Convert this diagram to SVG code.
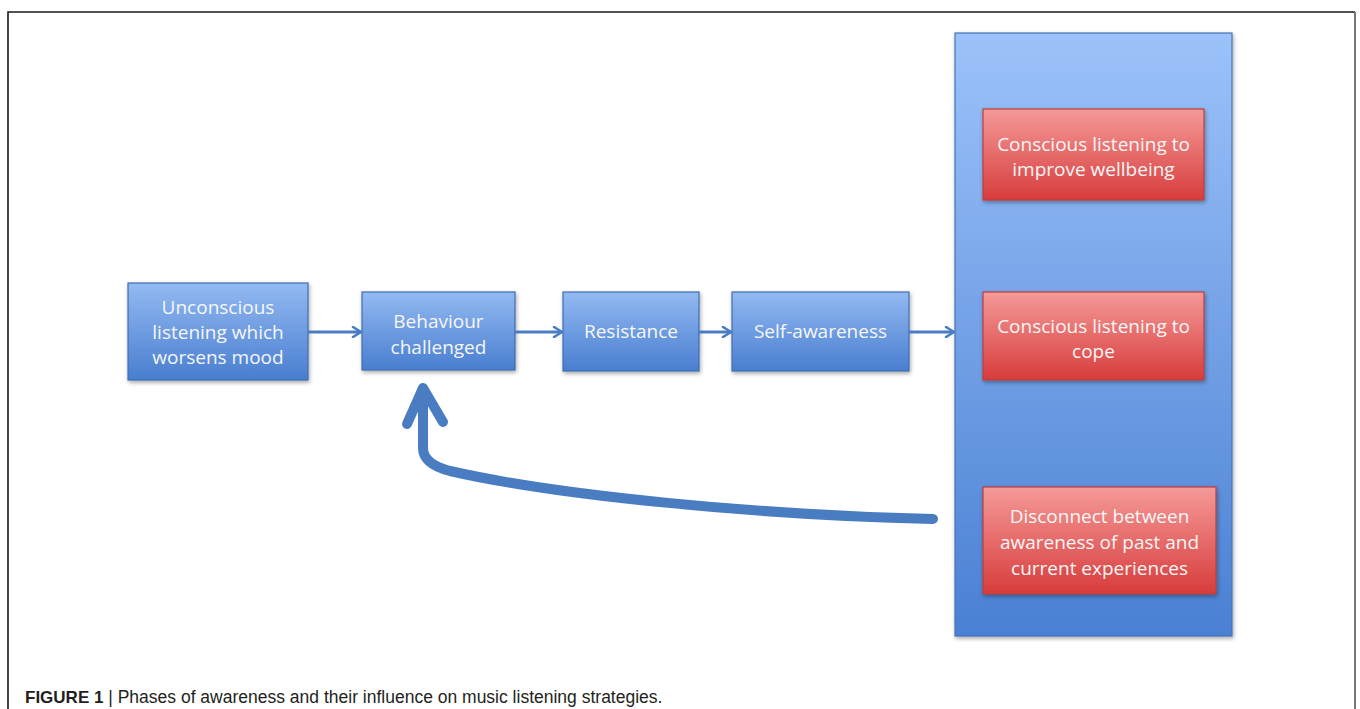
<svg xmlns="http://www.w3.org/2000/svg" width="1360" height="709" viewBox="0 0 1360 709">
<defs>
<linearGradient id="gBlue" x1="0" y1="0" x2="0" y2="1">
<stop offset="0" stop-color="#93baf2"/>
<stop offset="1" stop-color="#497ed0"/>
</linearGradient>
<linearGradient id="gBig" x1="0" y1="0" x2="0" y2="1">
<stop offset="0" stop-color="#9cc2fa"/>
<stop offset="1" stop-color="#4a80d3"/>
</linearGradient>
<linearGradient id="gRed" x1="0" y1="0" x2="0" y2="1">
<stop offset="0" stop-color="#f49a98"/>
<stop offset="1" stop-color="#d83c3c"/>
</linearGradient>
<filter id="sh" x="-10%" y="-10%" width="130%" height="130%">
<feGaussianBlur in="SourceAlpha" stdDeviation="2"/>
<feOffset dx="1" dy="2" result="b"/>
<feComponentTransfer><feFuncA type="linear" slope="0.35"/></feComponentTransfer>
<feMerge><feMergeNode/><feMergeNode in="SourceGraphic"/></feMerge>
</filter>
<marker id="ah" viewBox="0 0 12 12" refX="11" refY="6" markerWidth="12" markerHeight="12" markerUnits="userSpaceOnUse" orient="auto">
<path d="M3,1 L11,6 L3,11" fill="none" stroke="#4a7cc2" stroke-width="2.6" stroke-linecap="round" stroke-linejoin="round"/>
</marker>
</defs>
<style>
.bx{fill:url(#gBlue);stroke:#3f6db2;stroke-width:1.2;filter:url(#sh)}
.rd{fill:url(#gRed);stroke:#b8403e;stroke-width:1.2;filter:url(#sh)}
.big{fill:url(#gBig);stroke:#4574b6;stroke-width:1.2;filter:url(#sh)}
.t{font-family:"Open Sans","Liberation Sans",sans-serif;font-size:19px;fill:#f6f6f6;text-anchor:middle}
.c{stroke:#4a7cc2;stroke-width:3;fill:none}
.fb{stroke:#4a7cc2;stroke-width:10;fill:none;stroke-linecap:round;stroke-linejoin:round}
.cap{font-family:"Liberation Sans",Arial,sans-serif;font-size:17.5px;fill:#231f20}
</style>
<rect width="1360" height="709" fill="#ffffff"/>
<g id="frame">
<path d="M8,709 L8,12 L1355,12" fill="none" stroke="#1a1a1a" stroke-width="1.6"/>
<path d="M1355,12 L1355,709" fill="none" stroke="#777777" stroke-width="2"/>
</g>
<g id="strategies">
<rect class="big" x="955" y="33" width="277" height="603"/>
</g>
<g id="n1">
<rect class="bx" x="128" y="283" width="180" height="97"/>
<text class="t" x="218" y="314">Unconscious</text>
<text class="t" x="218" y="339">listening which</text>
<text class="t" x="218" y="364">worsens mood</text>
</g>
<g id="n2">
<rect class="bx" x="362" y="292" width="153" height="78"/>
<text class="t" x="438.5" y="328">Behaviour</text>
<text class="t" x="438.5" y="354">challenged</text>
</g>
<g id="n3">
<rect class="bx" x="563" y="292" width="136" height="79"/>
<text class="t" x="631" y="338">Resistance</text>
</g>
<g id="n4">
<rect class="bx" x="732" y="292" width="177" height="79"/>
<text class="t" x="820.5" y="338">Self-awareness</text>
</g>
<g id="r1">
<rect class="rd" x="983" y="109" width="221" height="91"/>
<text class="t" x="1093.5" y="151">Conscious listening to</text>
<text class="t" x="1093.5" y="176">improve wellbeing</text>
</g>
<g id="r2">
<rect class="rd" x="983" y="292" width="221" height="88"/>
<text class="t" x="1093.5" y="333">Conscious listening to</text>
<text class="t" x="1093.5" y="358">cope</text>
</g>
<g id="r3">
<rect class="rd" x="983" y="487" width="233" height="107"/>
<text class="t" x="1099.5" y="523">Disconnect between</text>
<text class="t" x="1099.5" y="549">awareness of past and</text>
<text class="t" x="1099.5" y="575">current experiences</text>
</g>
<g id="connectors">
<line class="c" x1="308" y1="332" x2="361" y2="332" marker-end="url(#ah)"/>
<line class="c" x1="515" y1="332" x2="562" y2="332" marker-end="url(#ah)"/>
<line class="c" x1="699" y1="332" x2="731" y2="332" marker-end="url(#ah)"/>
<line class="c" x1="909" y1="332" x2="954" y2="332" marker-end="url(#ah)"/>
<path class="fb" d="M933,519 C760,515 560,496 450,471 Q423,464 423,448 L423,392"/>
<path class="fb" d="M407,424 L423,388 L443,422"/>
</g>
<g id="caption">
<text class="cap" x="25" y="703"><tspan font-weight="bold" font-size="17px">FIGURE 1</tspan> | Phases of awareness and their influence on music listening strategies.</text>
</g>
</svg>
